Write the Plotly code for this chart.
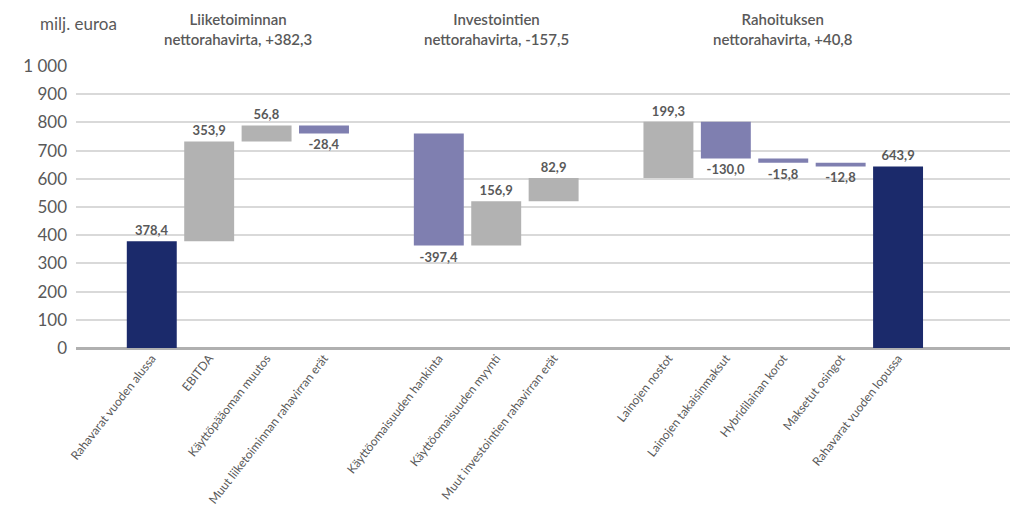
import plotly.graph_objects as go

# Data
categories = [
    "Rahavarat vuoden alussa", "EBITDA", "Käyttöpääoman muutos",
    "Muut liiketoiminnan rahavirran erät",
    "Käyttöomaisuuden hankinta", "Käyttöomaisuuden myynti",
    "Muut investointien rahavirran erät",
    "Lainojen nostot", "Lainojen takaisinmaksut", "Hybridilainan korot",
    "Maksetut osingot", "Rahavarat vuoden lopussa",
]
positions = [0, 1, 2, 3, 5, 6, 7, 9, 10, 11, 12, 13]
values = [378.4, 353.9, 56.8, -28.4, -397.4, 156.9, 82.9, 199.3, -130.0, -15.8, -12.8, 643.9]
measures = ["absolute", "relative", "relative", "relative", "relative", "relative",
            "relative", "relative", "relative", "relative", "relative", "absolute"]
labels = ["378,4", "353,9", "56,8", "-28,4", "-397,4", "156,9", "82,9", "199,3",
          "-130,0", "-15,8", "-12,8", "643,9"]
group_titles = ["Liiketoiminnan<br>nettorahavirta, +382,3",
                "Investointien<br>nettorahavirta, -157,5",
                "Rahoituksen<br>nettorahavirta, +40,8"]
group_centers = [1.5, 6.0, 11.0]
y_ticks = [0, 100, 200, 300, 400, 500, 600, 700, 800, 900, 1000]

GRAY_TXT = "#595959"
FONT = "Lato"

fig = go.Figure()
fig.add_trace(go.Waterfall(
    x=positions, y=values, measure=measures,
    text=labels, texttemplate="<b>%{text}</b>", textposition="outside",
    textfont=dict(size=13, color=GRAY_TXT, family=FONT),
    width=0.87,
    increasing=dict(marker=dict(color="#b2b2b2")),
    decreasing=dict(marker=dict(color="#7f7fb0")),
    totals=dict(marker=dict(color="#1b2a6b")),
    connector=dict(visible=False),
    cliponaxis=False,
    hoverinfo="skip",
))

for t, c in zip(group_titles, group_centers):
    fig.add_annotation(x=c, xref="x", y=1.131, yref="paper", text=t,
                       showarrow=False, yanchor="middle",
                       font=dict(size=15, color=GRAY_TXT, family="Lato Semibold, Lato",
                                 weight=600))

fig.add_annotation(xref="paper", yref="paper", x=-0.0405, y=1.149,
                   xanchor="left", yanchor="middle", text="milj. euroa",
                   showarrow=False, font=dict(size=17, color=GRAY_TXT, family=FONT))

fig.update_layout(
    width=1015, height=524,
    margin=dict(l=76, r=5, t=66, b=176),
    paper_bgcolor="white", plot_bgcolor="white",
    separators=", ",
    showlegend=False,
    font=dict(family=FONT, color=GRAY_TXT),
    xaxis=dict(range=[-1.32, 14.95], tickmode="array", tickvals=positions,
               ticktext=categories, tickangle=-52,
               tickfont=dict(size=12, color=GRAY_TXT, family=FONT),
               showgrid=False, zeroline=False, showline=False, ticks="",
               automargin=False, fixedrange=True),
    yaxis=dict(range=[0, 1000], tickmode="array", tickvals=y_ticks,
               tickformat=",d", tickfont=dict(size=17, color=GRAY_TXT, family=FONT),
               showgrid=True, gridcolor="#d9d9d9", gridwidth=1.5,
               zeroline=True, zerolinecolor="#b0b0b0", zerolinewidth=3,
               showline=False, ticks="", ticklabelstandoff=8,
               automargin=False, fixedrange=True),
)

fig.write_html("out.html")
